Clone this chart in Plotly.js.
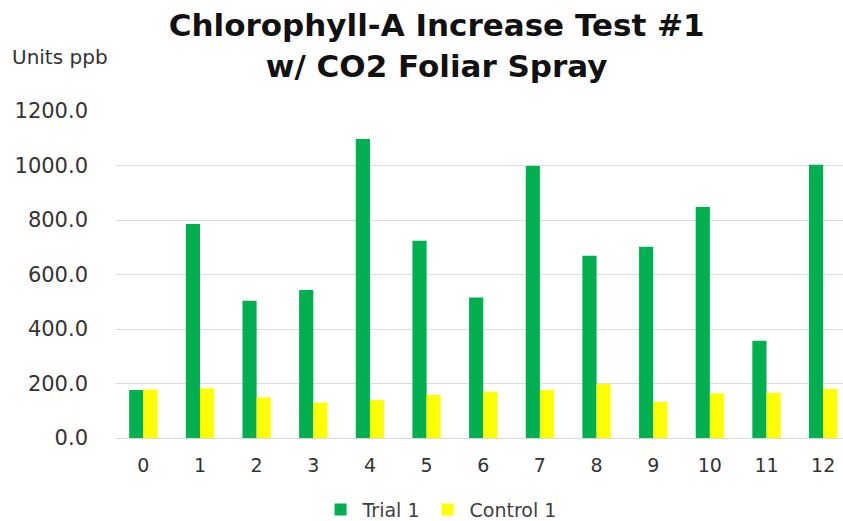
<!DOCTYPE html>
<html>
<head>
<meta charset="utf-8">
<script src="https://cdn.plot.ly/plotly-3.0.1.min.js"></script>
<style>html,body{margin:0;padding:0;background:#fff}#chart{width:843px;height:521px}</style>
</head>
<body>
<div id="chart"></div>
<script>
const categories = ["0","1","2","3","4","5","6","7","8","9","10","11","12"];
const trial1 = [176, 785, 504, 543, 1097, 724, 516, 998, 669, 702, 848, 357, 1003];
const control1 = [178, 182, 149, 130, 139, 158, 170, 176, 198, 133, 164, 166, 180];
const yTicks = [0, 200, 400, 600, 800, 1000, 1200];

const font = "'DejaVu Sans', 'Open Sans', sans-serif";
const data = [
  {type: "bar", name: "Trial 1", x: categories, y: trial1, marker: {color: "#00B050"}},
  {type: "bar", name: "Control 1", x: categories, y: control1, marker: {color: "#FFFF00"}}
];
const layout = {
  width: 843, height: 521,
  margin: {l: 115, r: 0, t: 111, b: 83},
  paper_bgcolor: "#fff", plot_bgcolor: "#fff",
  barmode: "group", bargap: 0.5, bargroupgap: 0,
  showlegend: true,
  legend: {orientation: "h", x: 0.522, xref: "container", xanchor: "center", y: 0.022, yref: "container", yanchor: "middle",
           font: {family: font, size: 19, color: "#404040"}, itemwidth: 34, traceorder: "normal"},
  title: {text: "<b>Chlorophyll-A Increase Test #1<br>w/ CO2 Foliar Spray</b>", x: 0.518, xanchor: "center",
          y: 0.93, yref: "container", yanchor: "middle", font: {family: font, size: 31, color: "#111"}},
  xaxis: {type: "category", range: [-0.5, 12.35], showgrid: false, showline: true, linecolor: "#d9d9d9", linewidth: 1,
          ticks: "", tickfont: {family: font, size: 19, color: "#333"}, ticklabelstandoff: 10},
  yaxis: {range: [0, 1200], tickvals: yTicks, ticktext: yTicks.map(v => v.toFixed(1)),
          showgrid: true, gridcolor: "#dcdcdc", gridwidth: 1, zeroline: false,
          ticks: "", tickfont: {family: font, size: 21, color: "#333"}, ticklabelstandoff: 26},
  annotations: [{text: "Units ppb", xref: "paper", yref: "paper", x: -0.144, xanchor: "left",
                 y: 1.165, yanchor: "middle", showarrow: false, font: {family: font, size: 20, color: "#333"}}]
};
Plotly.newPlot("chart", data, layout, {displayModeBar: false, staticPlot: true});
</script>
</body>
</html>
